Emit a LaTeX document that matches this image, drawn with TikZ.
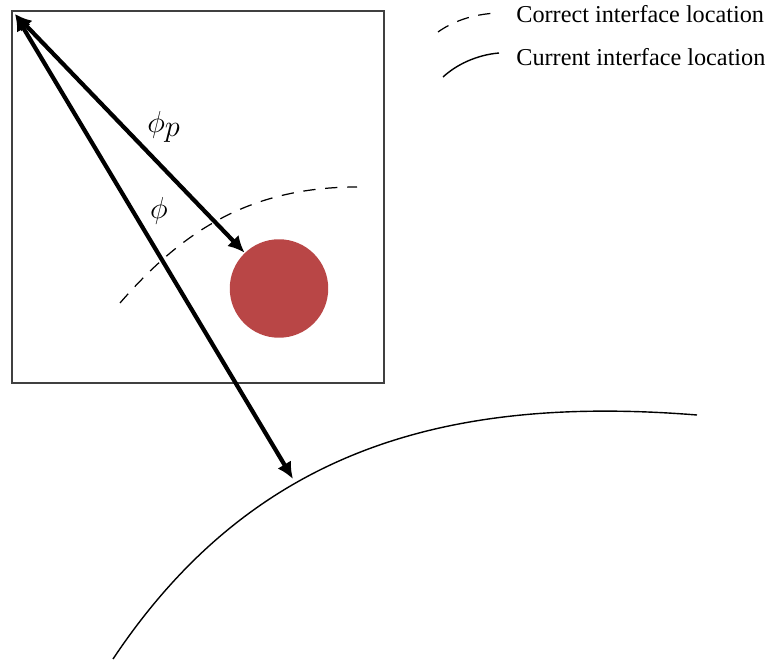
\documentclass[tikz,border=0pt]{standalone}
\usepackage{fontspec}
\setmainfont{Liberation Serif}
\usetikzlibrary{arrows.meta}

\definecolor{dropred}{RGB}{185,70,70}

\begin{document}
\begin{tikzpicture}[
  x=0.02cm, y=-0.02cm,
  cell/.style={draw=black!75, line width=0.7pt},
  drop/.style={circle, fill=dropred, inner sep=0pt, minimum size=1.97cm},
  dist/.style={<->, >={Latex[length=9.5pt,width=9pt]}, line width=2.4pt},
  correct/.style={dash pattern=on 7pt off 5.5pt, line width=0.7pt},
  current/.style={line width=0.8pt},
  lbl/.style={font=\fontsize{16.5}{18}\selectfont, inner sep=0pt},
  legtxt/.style={font=\fontsize{13.8}{16}\selectfont, anchor=base west, inner sep=0pt},
]
\useasboundingbox (0,0) rectangle (765,662);

% ---------- cell with droplet ----------
\draw[cell] (12,11) rectangle (384,383);
\coordinate (corner) at (15,14);
\node[drop] (drop) at (279,288.5) {};

% ---------- interfaces ----------
\draw[correct] (120,303) .. controls (180,234) and (247,187) .. (357,187);
\draw[current] (113,659) .. controls (253,449) and (447,395) .. (697,415);
\coordinate (hit) at (293,479);

% ---------- distances ----------
\draw[dist] (corner) -- (drop);
\draw[dist] (corner) -- (hit);
\node[lbl] (phip) at (164,127) {$\phi_{\textstyle p}$};
\node[lbl] (phi)  at (159,211) {$\phi$};

% ---------- legend ----------
\coordinate (lgA1) at (438,32);
\coordinate (lgA2) at (498,13);
\coordinate (lgB1) at (443,77);
\coordinate (lgB2) at (499,53);
\draw[correct] (lgA1) .. controls (452,22) and (472,14) .. (lgA2);
\draw[current] (lgB1) .. controls (456,65) and (476,55) .. (lgB2);
\node[legtxt] (lgA) at (516,22.7) {Correct interface location};
\node[legtxt] (lgB) at (516,66) {Current interface location};

\end{tikzpicture}
\end{document}
